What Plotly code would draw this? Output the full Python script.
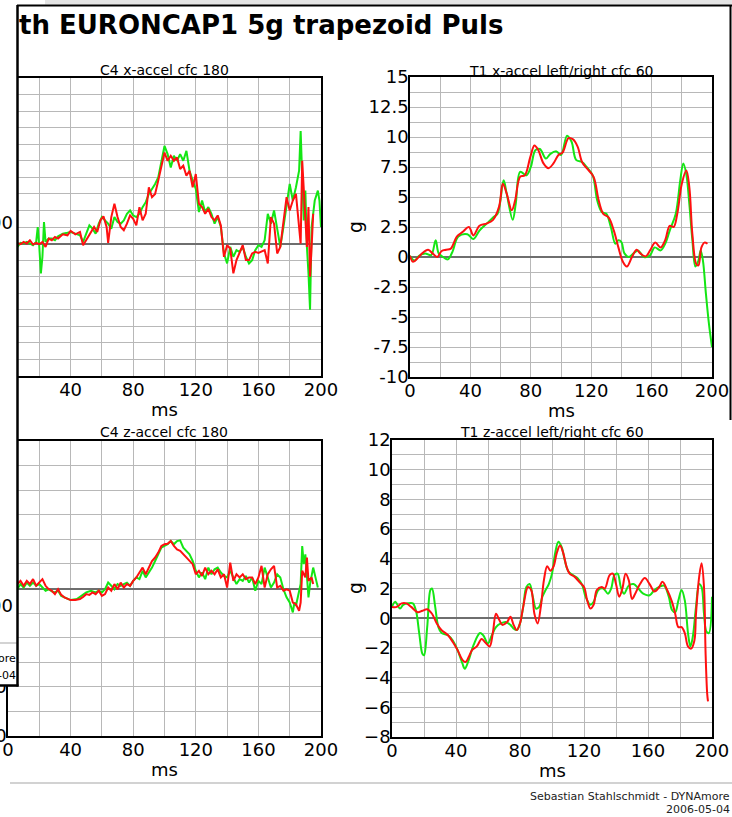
import plotly.graph_objects as go

W, H = 732, 817

# ---------------- data ----------------
# C4 x-accel cfc 180 (top-left)
t_c4x_green = [0,2,4,6,8,10,12,14,16,18,19,20,21,22,23,24,26,28,30,32,35,38,40,43,46,48,50,52,54,56,
               58,60,62,64,66,68,70,72,74,76,78,80,82,84,86,88,90,92,94,96,98,100,102,104,106,108,110,112,114,116,
               118,120,122,124,126,128,130,132,134,136,138,140,142,144,146,148,150,152,154,156,158,160,162,164,166,168,
               170,172,174,176,178,180,182,184,186,187,188,189,190,191,192,193,194,196,198,199,200]
c4x_green = [0,1,-1,-2,0.4,0,1,0,-1,1,10,-2,-18,-8,13,1,3,3,2,4.4,6,6.5,7,6,5,1,6,11,9,6,
             12,16,14,12,9,16,13,12,14,18,20,17,16,18,22,25,30,33,36,40,50,59,54,46,53,50,54,50,56,44,
             38,33,19,26,19,22,18,12,16,10,-6,-12,-2,-8,-4,-5,-2,-8,-12,-10,-4,-1,-2,2,18,12,
             20,10,-2,10,24,36,26,34,44,68,40,14,32,-2,-18,-40,10,26,32,26,10]
t_c4x_red = [0,2,4,6,8,10,12,14,16,18,20,22,24,26,28,30,32,35,38,40,43,46,48,50,52,55,57,59,61,63,64,66,68,
             70,72,74,76,78,80,82,84,86,88,90,92,94,96,98,100,102,104,106,108,110,112,114,116,118,120,122,124,126,128,
             130,132,134,136,138,140,142,144,146,148,150,152,154,156,158,160,162,164,166,168,170,172,174,176,178,180,
             182,184,186,187,188,190,191,192,193,194,195]
c4x_red = [0.5,-0.5,0.3,0.4,-0.4,1,0,2,-0.6,0.4,-0.4,1,-2,3,2,4,3,5.6,5,7.7,5.6,7,-1,2,5,10,7,14,16.5,10,0.4,16,24,
           16,10,8,12,17,15,11,22,14,18,34,28,30,38,46,55,50,53,50,52,45,47,41,44,34,42,24,22,18,21,
           16,14,17,11,-8,-1,-3,-18,-10,-6,-1,-10,-10,-6,-5,-5.6,-5,-4,-12,16,12,-6,-2,14,28,20,
           26,30,12,0,50,10,-2,22,-20,-2,18]

# T1 x-accel left/right cfc 60 (top-right)
t_t1x_green = [0,3,6,10,14,17,19,22,25,28,32,38,42,46,51,55,58,62,64,68,70,73,77,80,83,86,90,93,97,100,
               104,107,110,114,117,121,124,127,130,133,136,138,140,142,145,148,151,155,159,162,
               166,169,172,176,179,181,183,185,187,189,191,192.5,194,196,198,200]
t1x_green = [0.1,-0.3,0.1,0.3,0.15,1.4,0.3,0.0,-0.2,0.4,1.7,1.9,1.5,2.2,2.8,3.3,3.6,6.4,5.3,3.1,
             4.4,7.1,6.8,7.5,8.9,9.0,8.2,8.6,8.8,8.5,10.1,9.6,8.1,7.9,7.5,6.8,4.7,3.75,3.6,2.5,
             1.1,1.4,1.25,0.3,0.0,0.3,0.55,0.0,0.15,0.8,0.55,1.1,2.2,3.6,6.4,7.8,6.9,4.4,1.4,-0.8,
             -0.3,0.55,-0.3,-3.1,-5.6,-7.5]
t_t1x_red = [0,2,5,8,12,15,18,21,24,27,31,35,39,42,46,51,55,59,61.5,64,67.4,69.6,73,76,79.6,82.4,85,88.4,91.7,95,
             98.3,101,105,108,111,114,117,121.5,125,128,131.5,135,138,141,143.6,147,150,152.5,156,159,
             162.4,166,169,172,174.6,177,180,183,185,187,189.6,191,193,195,197]
t1x_red = [0.1,-0.4,-0.1,0.3,0.6,0.3,0.0,0.5,0.6,0.7,1.7,2.1,2.5,1.8,2.6,2.8,3.1,4.2,6.1,5.3,
           3.9,4.7,6.7,6.8,8.3,9.3,8.9,7.8,7.4,7.8,8.5,8.7,9.9,9.8,9.2,7.9,7.4,6.7,4.7,3.6,
           3.3,2.2,0.8,-0.4,-0.8,0.0,0.6,0.3,0.05,0.55,1.2,0.8,1.4,2.6,2.5,3.6,6.1,7.2,5.8,1.9,
           -0.6,-0.7,0.8,1.2,1.1]

# C4 z-accel cfc 180 (bottom-left)
t_c4z_green = [0,3,6,8,10,12,14,16,18,20,22,24,26,28,30,32,34,36,40,44,48,50,53,56,58,60,62,64,66,68,
               70,72,74,76,78,80,82,84,86,88,90,92,94,96,98,100,102,104,106,108,110,112,114,116,118,120,122,124,126,128,
               130,132,134,136,138,140,142,144,146,148,150,152,154,156,158,160,162,164,166,168,
               170,172,174,176,178,180,182,183,184,186,187,188,189,190,191,192,193,195,197,198]
c4z_green = [5,0,-3,18,4,24,11,24,11,18,4,-9,-3,-12,-16,-9,-30,-36,-47,-43,-23,-16,-9,-16,-9,-16,-3,24,11,-3,
             18,11,18,24,11,31,45,38,72,45,65,85,112,139,166,173,180,193,180,193,196,166,153,139,112,72,45,65,38,85,
             58,78,85,65,51,45,72,45,18,38,31,51,24,45,-9,31,18,85,45,4,
             24,58,45,-3,-36,-57,-97,-57,-70,-9,18,173,99,139,45,-36,18,85,31,4]
t_c4z_red = [0,3,6,8,10,12,14,16,18,20,22,24,26,28,30,32,34,36,38,40,43,46,48,50,52,54,56,58,60,62,
             64,66,68,70,72,74,76,78,80,82,84,86,88,90,92,94,96,98,100,102,104,106,108,110,112,114,116,118,120,122,
             124,126,128,130,132,134,136,138,140,142,144,146,148,150,152,154,156,158,160,162,
             164,166,168,170,172,174,176,178,180,182,184,186,187,188,190,191,192,194,195]
c4z_red = [10,25,18,31,11,31,18,38,11,24,38,11,-3,-9,-23,-3,-26,-36,-43,-47,-47,-43,-34,-23,-26,-16,-23,-9,-30,-23,
           4,-9,18,-3,24,4,18,11,31,45,65,85,58,85,112,126,146,173,180,182,193,173,159,153,139,126,112,99,58,72,
           51,85,58,72,58,78,45,58,4,105,31,58,45,58,38,45,45,18,45,92,
           4,58,78,92,4,11,-9,-3,-9,-57,-64,-91,-57,72,45,126,31,45,18]

# T1 z-accel left/right cfc 60 (bottom-right)
t_t1z_green = [0,2,5,7,10,13,15,17,19,20,22,24,25,27,29,31,35,38,41,44,45.5,48,51,55,57,60,62,65,68,71,
               74,76,78,80,82,84,86,88,90,92,94,96,98,100,102,104,106,108,110,113,116,119,121,124,126,129,132,135,137,139,
               141,143,145,148,151,154,157,161,164,167,170,173,175,177,179,181,183,185,186.5,188,
               190,192,193.5,195,196.5,198,200]
t1z_green = [0.76,1.1,0.65,0.9,1.0,1.0,0.5,-1.0,-2.4,-2.5,-0.6,1.9,2.0,0.76,-0.6,-1.0,-1.15,-1.5,-2.15,-3.05,
             -3.4,-2.8,-1.8,-1.0,-1.15,-1.7,-1.25,-0.6,-0.35,-0.25,-0.45,-0.7,-0.8,-0.35,0.76,2.1,2.3,1.45,0.65,0.76,
             1.45,1.9,2.3,3.0,4.4,5.15,4.8,3.9,3.2,2.9,2.7,2.2,1.45,0.9,1.1,1.9,2.0,1.65,2.0,2.9,
             3.0,2.1,1.65,2.2,2.3,2.0,1.65,1.55,1.9,2.1,2.2,1.45,0.55,0.4,1.2,1.9,1.2,-1.0,-1.9,-1.25,
             0.76,2.3,2.1,0.3,-0.9,-1.0,1.45]
t_t1z_red = [0,3,6,9,12,16,19,22,25,28,31,35,38,41,44,46,48,50,53,56,58,61,63,65,67,69,72,74,76,78,
             80,82,85,87,89,91,93,95,97,99,101,103,105,107,109,111,114,117,120,122,124,126,128,131,133,136,138,140,142,144,
             146,148,150,152,155,158,161,164,167,169,172,175,177,179,181,183,185,187,189,190,
             192,193.5,195,196,197,197.5]
t1z_red = [0.76,0.76,1.0,1.0,0.76,0.4,0.5,0.6,0.3,-0.35,-0.8,-1.15,-1.6,-2.15,-2.8,-2.95,-2.6,-2.15,-1.9,-1.4,
           -1.6,-1.9,-1.0,0.3,-0.1,-0.45,-0.25,0.1,-0.45,-0.8,-0.35,0.76,2.1,1.9,0.3,-0.35,0.76,2.6,3.5,3.2,
           3.5,4.4,4.9,4.4,3.5,3.0,2.8,2.45,2.1,1.2,0.65,0.9,1.9,2.1,2.0,2.9,3.0,2.3,1.45,2.0,
           3.0,2.55,1.3,1.65,2.3,2.7,2.3,1.8,2.1,2.45,1.9,1.1,0.3,-0.6,-0.6,-1.0,-1.9,-2.05,-1.5,0.3,
           2.8,3.7,2.1,-2.4,-5.1,-5.6]

titles = ["C4 x-accel cfc 180", "T1 x-accel left/right cfc 60",
          "C4 z-accel cfc 180", "T1 z-accel left/right cfc 60"]
main_title = "th EURONCAP1 5g trapezoid Puls"
footer = ["Sebastian Stahlschmidt - DYNAmore", "2006-05-04"]

x_ticks = [0, 40, 80, 120, 160, 200]
t1x_ticks = [-10, -7.5, -5, -2.5, 0, 2.5, 5, 7.5, 10, 12.5, 15]
t1x_ticktext = ["-10", "-7.5", "-5", "-2.5", "0", "2.5", "5", "7.5", "10", "12.5", "15"]
t1z_ticks = [-8, -6, -4, -2, 0, 2, 4, 6, 8, 10, 12]
c4z_ticks = [-600, -400]          # only these label fragments are uncovered in the reference

GREEN = "#14e614"
RED = "#ff1010"
FONT = "DejaVu Sans, Verdana, sans-serif"

# ---------------- layout helpers ----------------
def fx(px):
    return px / W

def fy(py):
    return 1 - py / H

# panel boxes in pixels: (left, top, right, bottom)
boxes = [(8, 78, 321, 376), (410, 77, 712, 377), (8, 441, 321, 736), (392, 440, 712, 737)]

fig = go.Figure()

series = [
    (t_c4x_green, c4x_green, t_c4x_red, c4x_red, "linear"),
    (t_t1x_green, t1x_green, t_t1x_red, t1x_red, "spline"),
    (t_c4z_green, c4z_green, t_c4z_red, c4z_red, "linear"),
    (t_t1z_green, t1z_green, t_t1z_red, t1z_red, "spline"),
]
for i, (tg, vg, tr, vr, shape) in enumerate(series):
    sfx = "" if i == 0 else str(i + 1)
    fig.add_trace(go.Scatter(x=tg, y=vg, mode="lines", line=dict(color=GREEN, width=2, shape=shape),
                             xaxis="x" + sfx, yaxis="y" + sfx, showlegend=False, hoverinfo="skip"))
    fig.add_trace(go.Scatter(x=tr, y=vr, mode="lines", line=dict(color=RED, width=2, shape=shape),
                             xaxis="x" + sfx, yaxis="y" + sfx, showlegend=False, hoverinfo="skip"))

GRID = "#b8b8b8"
axis_common = dict(showline=True, linecolor="black", linewidth=1.5, mirror=True, automargin=False,
                   showgrid=True, gridcolor=GRID, gridwidth=1, ticks="", ticklen=0,
                   tickfont=dict(family=FONT, size=18, color="black"))

yranges = [(-80, 100), (-10, 15), (-600, 600), (-8, 12)]
ydticks = [(20, 10), (2.5, 1.25), (200, 100), (2, 1)]

layout_axes = {}
for i, (l, t, r, b) in enumerate(boxes):
    sfx = "" if i == 0 else str(i + 1)
    xa = dict(axis_common, domain=[fx(l), fx(r)], range=[0, 200], anchor="y" + sfx,
              tickvals=x_ticks, zeroline=False, ticklabelstandoff=-3,
              minor=dict(showgrid=True, gridcolor=GRID, dtick=20, tick0=0))
    ya = dict(axis_common, domain=[fy(b), fy(t)], range=list(yranges[i]), anchor="x" + sfx,
              zeroline=True, zerolinecolor="#6e6e6e", zerolinewidth=1.5, ticklabelstandoff=-4,
              minor=dict(showgrid=True, gridcolor=GRID, dtick=ydticks[i][1], tick0=0))
    if i == 0:
        ya.update(showticklabels=False, dtick=ydticks[i][0], tick0=0)
    elif i == 1:
        ya.update(tickvals=t1x_ticks, ticktext=t1x_ticktext)
    elif i == 2:
        ya.update(tickvals=c4z_ticks)
    else:
        ya.update(tickvals=t1z_ticks)
    layout_axes["xaxis" + sfx] = xa
    layout_axes["yaxis" + sfx] = ya

annotations = []
def txt(text, x, y, size, xanchor="center", bold=False, angle=0, color="black"):
    annotations.append(dict(text=("<b>%s</b>" % text) if bold else text, x=fx(x), y=fy(y),
                            xref="paper", yref="paper", xanchor=xanchor, yanchor="middle",
                            showarrow=False, textangle=angle, borderpad=0,
                            font=dict(family=FONT, size=size, color=color)))

# subplot titles
txt(titles[0], 164, 70, 14)
txt(titles[1], 561, 71, 14)
txt(titles[2], 164, 432, 14)
txt(titles[3], 552, 432, 14)
# axis titles
for (l, t, r, b) in boxes:
    txt("ms", (l + r) / 2, b + 33, 18)
txt("g", 355, 227, 19, angle=-90)
txt("g", 355, 588, 19, angle=-90)
# main title
txt(main_title, 18, 25, 26, xanchor="left", bold=True)
# footer
txt(footer[0], 731, 796, 11, xanchor="right", color="#222")
txt(footer[1], 731, 809, 11, xanchor="right", color="#222")

shapes = [
    # top grey strip and window edge
    dict(type="rect", xref="paper", yref="paper", x0=fx(45), x1=1, y0=fy(4.5), y1=1,
         fillcolor="#e4e4e4", line=dict(width=0)),
    dict(type="line", xref="paper", yref="paper", x0=fx(17), x1=1, y0=fy(5.5), y1=fy(5.5),
         line=dict(color="black", width=2)),
    # overlapping window piece on the left
    dict(type="rect", xref="paper", yref="paper", x0=0, x1=fx(17.5), y0=fy(685), y1=fy(5.5),
         fillcolor="white", line=dict(width=0)),
    dict(type="line", xref="paper", yref="paper", x0=0, x1=fx(17.5), y0=fy(643), y1=fy(643),
         line=dict(color="#c4c4c4", width=1.5)),
    dict(type="line", xref="paper", yref="paper", x0=fx(17.5), x1=fx(17.5), y0=fy(686.5), y1=fy(5),
         line=dict(color="black", width=2.5)),
    dict(type="line", xref="paper", yref="paper", x0=0, x1=fx(18.5), y0=fy(685.5), y1=fy(685.5),
         line=dict(color="black", width=2.5)),
    # right window edge
    dict(type="line", xref="paper", yref="paper", x0=fx(730.5), x1=fx(730.5), y0=fy(420), y1=fy(5),
         line=dict(color="black", width=2)),
    # footer rule
    dict(type="line", xref="paper", yref="paper", x0=fx(10), x1=1, y0=fy(783), y1=fy(783),
         line=dict(color="#d2d2d2", width=2)),
]

# fragments of the window behind
txt("00", 14, 222, 18, xanchor="right")
txt("00", 14, 605, 18, xanchor="right")
txt("ore", 17, 658, 11, xanchor="right")
txt("-04", 17, 675, 11, xanchor="right")

fig.update_layout(width=W, height=H, margin=dict(l=0, r=0, t=0, b=0),
                  paper_bgcolor="white", plot_bgcolor="white",
                  annotations=annotations, shapes=shapes, **layout_axes)

fig.write_html("out.html", config={"displayModeBar": False},
               post_script="document.body.style.margin='0px';document.body.style.overflow='hidden';")
